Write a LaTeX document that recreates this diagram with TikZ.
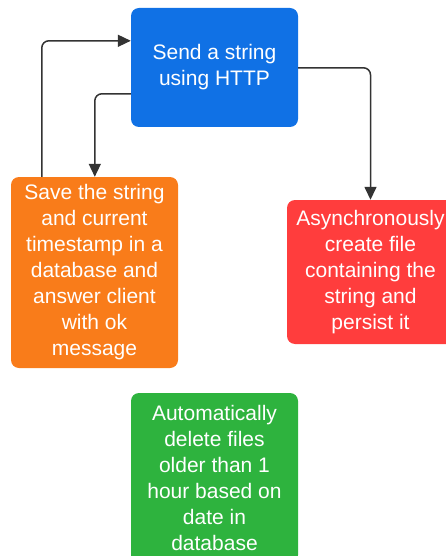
\documentclass[tikz,border=0pt]{standalone}
\usepackage{fontspec}
\setmainfont{Liberation Sans}
\usetikzlibrary{arrows.meta,calc}
\definecolor{cblue}{HTML}{1071E5}
\definecolor{corange}{HTML}{F97C1A}
\definecolor{cred}{HTML}{FF3D3D}
\definecolor{cgreen}{HTML}{2EB33E}
\definecolor{cline}{HTML}{333333}
\begin{document}
\begin{tikzpicture}[x=1pt,y=-1pt,
  box/.style={rounded corners=8pt, inner sep=0pt, text=white, align=center,
    minimum width=167pt, font=\fontsize{21}{26}\selectfont},
  arr/.style={draw=cline, line width=1.5pt, rounded corners=7pt,
    -{Triangle[length=13pt,width=12pt]}}]
\useasboundingbox (0,0) rectangle (446,556);
\node[box, fill=cblue, minimum height=119pt] (b) at (214.5,67.5) {Send a string\\using HTTP};
\node[box, fill=corange, minimum height=191pt] (o) at (94.5,272.5) {Save the string\\and current\\timestamp in a\\database and\\answer client\\with ok\\message};
\node[box, fill=cred, minimum height=144pt] (r) at (370.5,272) {Asynchronously\\create file\\containing the\\string and\\persist it};
\node[box, fill=cgreen, minimum height=170pt] (g) at (214.5,478) {Automatically\\delete files\\older than 1\\hour based on\\date in\\database};
\draw[arr] ($(o.north west)+(31,0)$) |- ($(b.north west)+(0,33)$);
\draw[arr] ($(b.north west)+(0,86)$) -| ($(o.north west)+(84,0)$);
\draw[arr] ($(b.north east)+(0,60)$) -| (r.north);
\end{tikzpicture}
\end{document}
